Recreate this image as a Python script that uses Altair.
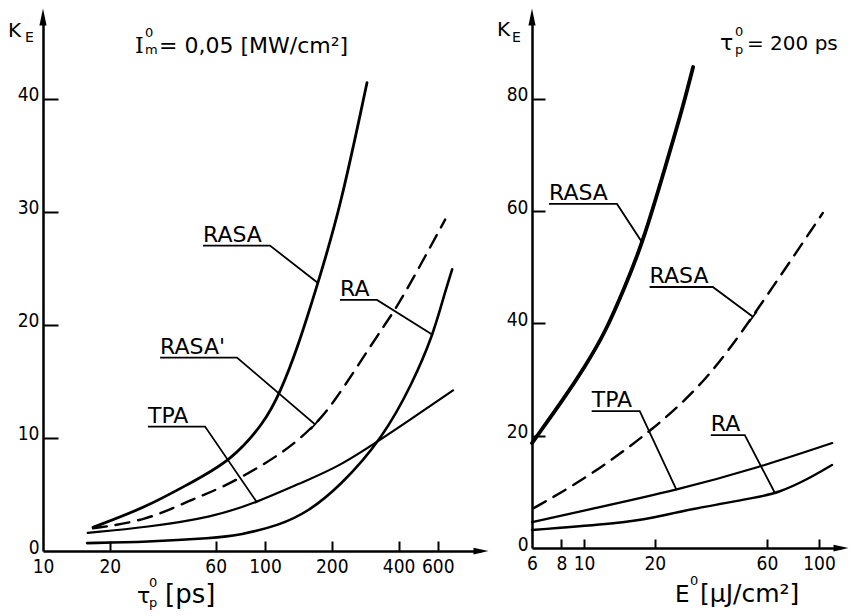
import math
import altair as alt
import pandas as pd

FONT = "DejaVu Sans"
TICKFONT = "DejaVu Sans Condensed, Liberation Sans Narrow, DejaVu Sans"

# ---------------- left panel: K_E versus tau_p^0 [ps] ----------------
L_RASA_X = [16.8, 29.4, 45.9, 69.6, 100.0, 116.8, 139.4, 173.3, 217.7, 288.1]
L_RASA_Y = [2.1, 3.9, 6.0, 7.9, 11.4, 14.0, 17.8, 23.7, 30.2, 41.4]
L_RASAP_X = [16.8, 29.4, 45.9, 64.6, 102.1, 133.8, 171.4, 204.9, 264.6, 340.0, 405.0, 648.0]
L_RASAP_Y = [2.0, 2.7, 4.5, 5.6, 7.8, 9.4, 11.3, 13.2, 16.5, 19.8, 21.9, 29.3]
L_RA_X = [15.8, 29.4, 58.3, 77.2, 116.8, 154.4, 217.7, 340.0, 464.0, 571.0, 632.0, 697.0]
L_RA_Y = [0.7, 0.8, 1.15, 1.4, 2.3, 3.4, 5.7, 10.0, 14.9, 19.1, 22.2, 24.9]
L_TPA_X = [15.9, 29.4, 58.3, 92.0, 144.3, 217.7, 347.7, 703.0]
L_TPA_Y = [1.6, 2.1, 3.0, 4.3, 6.0, 7.5, 10.1, 14.2]

L_XLABELS = [10, 20, 60, 100, 200, 400, 600]
L_XTICKS = [20, 60, 100, 200, 400, 600]
L_YLABELS = [0, 10, 20, 30, 40]
L_YTICKS = [10, 20, 30, 40]

# label, underline x0, underline x1, underline y, leader end x, leader end y, end bar
L_ANNOT = [
    ("RASA", 52.6, 105.3, 27.0, 173.3, 23.7, False),
    ("RA", 217.7, 319.6, 22.2, 571.0, 19.1, False),
    ("RASA'", 33.7, 74.8, 17.1, 168.0, 11.2, True),
    ("TPA", 29.7, 53.7, 11.0, 92.0, 4.3, False),
]

# ---------------- right panel: K_E versus E^0 [uJ/cm2] ----------------
R_RASA_X = [6.0, 8.29, 10.07, 12.27, 14.9, 17.75, 22.6, 26.1, 29.1]
R_RASA_Y = [18.7, 26.9, 32.3, 38.3, 46.5, 54.3, 69.1, 78.0, 85.7]
R_RASAD_X = [6.1, 10.3, 19.6, 33.4, 52.3, 103.8]
R_RASAD_Y = [7.1, 12.5, 21.0, 29.9, 41.2, 59.7]
R_TPA_X = [6.0, 10.3, 24.8, 56.0, 113.8]
R_TPA_Y = [4.6, 6.8, 10.3, 14.4, 18.7]
R_RA_X = [6.0, 14.2, 19.6, 27.4, 56.0, 66.4, 88.2, 113.5]
R_RA_Y = [3.2, 4.4, 5.35, 6.8, 9.1, 9.8, 12.1, 14.8]

R_XLABELS = [6, 8, 10, 20, 60, 100]
R_XTICKS = [8, 10, 20, 60, 100]
R_YLABELS = [0, 20, 40, 60, 80]
R_YTICKS = [20, 40, 60, 80]

R_ANNOT = [
    ("RASA", 7.09, 13.8, 61.3, 17.75, 54.3, False),
    ("RASA", 19.0, 35.3, 46.5, 52.3, 41.2, True),
    ("TPA", 10.77, 17.25, 24.4, 24.76, 10.3, False),
    ("RA", 34.6, 48.3, 20.1, 64.9, 9.8, False),
]

ONE = alt.Data(values=[{}])


def axis(values, is_y):
    extra = {"labelOffset": -4, "labelPadding": 4} if is_y else {"labelPadding": 6}
    return alt.Axis(values=values, format="d", title=None, grid=False, ticks=False,
                    tickSize=0, domain=True, domainColor="black", domainWidth=2.5,
                    labelFont=TICKFONT, labelFontSize=19, labelColor="black",
                    labelFlush=False, labelOverlap=False, **extra)


def tick_axis(values, orient, offset, size):
    # a second axis on the same scale, moved onto the axis line so its ticks point inward
    return alt.Axis(values=values, orient=orient, offset=offset, labels=False, domain=False,
                    grid=False, ticks=True, tickSize=size, tickWidth=2, tickColor="black",
                    title=None)


class Panel:
    def __init__(self, xdom, ydom, W, H, xlabels, ylabels):
        self.xdom, self.ydom, self.W, self.H = xdom, ydom, W, H
        self.xs = alt.Scale(type="log", domain=xdom, nice=False)
        self.ys = alt.Scale(domain=ydom, nice=False, zero=False)
        self.xa = axis(xlabels, False)
        self.ya = axis(ylabels, True)

    def X(self, f):
        return alt.X(f, scale=self.xs, axis=self.xa)

    def Y(self, f):
        return alt.Y(f, scale=self.ys, axis=self.ya)

    # pixel <-> data helpers for the small perpendicular bar at a leader end
    def px(self, x, y):
        lx0, lx1 = math.log10(self.xdom[0]), math.log10(self.xdom[1])
        return ((math.log10(x) - lx0) / (lx1 - lx0) * self.W,
                self.H - (y - self.ydom[0]) / (self.ydom[1] - self.ydom[0]) * self.H)

    def data(self, px, py):
        lx0, lx1 = math.log10(self.xdom[0]), math.log10(self.xdom[1])
        return (10 ** (lx0 + px / self.W * (lx1 - lx0)),
                self.ydom[0] + (self.H - py) / self.H * (self.ydom[1] - self.ydom[0]))

    def curve(self, xs, ys, width, dash=None):
        mk = dict(color="black", strokeWidth=width, interpolate="basis", strokeCap="round")
        if dash:
            mk["strokeDash"] = dash
        return alt.Chart(pd.DataFrame({"x": xs, "y": ys})).mark_line(**mk).encode(
            x=self.X("x:Q"), y=self.Y("y:Q"))

    def annotations(self, annot):
        rows, labels = [], []
        for i, (lab, x0, x1, yu, xe, ye, bar) in enumerate(annot):
            pts = [(x0, yu), (x1, yu), (xe, ye)]
            if bar:
                ax, ay = self.px(x1, yu)
                ex, ey = self.px(xe, ye)
                d = math.hypot(ex - ax, ey - ay)
                nx, ny = -(ey - ay) / d * 6.5, (ex - ax) / d * 6.5
                pts += [self.data(ex + nx, ey + ny), self.data(ex - nx, ey - ny)]
            rows += [dict(x=px_, y=py_, g=i, o=k) for k, (px_, py_) in enumerate(pts)]
            labels.append(dict(x=x0, y=yu, t=lab))
        lead = alt.Chart(pd.DataFrame(rows)).mark_line(color="black", strokeWidth=1.8).encode(
            x=self.X("x:Q"), y=self.Y("y:Q"), detail="g:N", order="o:Q")
        text = alt.Chart(pd.DataFrame(labels)).mark_text(
            align="left", baseline="alphabetic", dy=-4, font=FONT, fontSize=22,
            color="black").encode(x=self.X("x:Q"), y=self.Y("y:Q"), text="t:N")
        return [lead, text]

    def tick_layer(self, xs, ys, xt, yt, ylen, xlen):
        return alt.Chart(pd.DataFrame({"x": xs, "y": ys})).mark_line(opacity=0).encode(
            x=alt.X("x:Q", scale=self.xs, axis=tick_axis(xt, "top", -self.H, xlen)),
            y=alt.Y("y:Q", scale=self.ys, axis=tick_axis(yt, "right", -self.W, ylen)))


def txt(s, px, py, size, font=FONT):
    return alt.Chart(ONE).mark_text(align="left", baseline="alphabetic", font=font,
                                    fontSize=size, color="black").encode(
        x=alt.value(px), y=alt.value(py), text=alt.value(s))


def arrows(W, H):
    up = alt.Chart(ONE).mark_point(shape="M0,-1L0.42,1L-0.42,1Z", size=290, filled=True,
                                   color="black", opacity=1).encode(x=alt.value(0), y=alt.value(0))
    right = alt.Chart(ONE).mark_point(shape="M1,0L-1,0.45L-1,-0.45Z", size=225, filled=True,
                                      color="black", opacity=1).encode(x=alt.value(W), y=alt.value(H))
    return [up, right]


# ---------- left ----------
LW, LH = 438, 534
L = Panel([10, 940], [0, 47.21], LW, LH, L_XLABELS, L_YLABELS)
left_base = alt.layer(*([
    L.curve(L_RASA_X, L_RASA_Y, 2.8),
    L.curve(L_RASAP_X, L_RASAP_Y, 2.4, dash=[14, 9]),
    L.curve(L_RA_X, L_RA_Y, 2.6),
    L.curve(L_TPA_X, L_TPA_Y, 2.2),
] + arrows(LW, LH) + L.annotations(L_ANNOT) + [
    txt("K", -35, 20, 20), txt("E", -18, 25, 14),
    txt("I", 92, 36, 22, "DejaVu Serif"), txt("0", 102, 20, 13), txt("m", 102, 37, 13),
    txt("= 0,05 [MW/cm²]", 116, 36, 22),
    txt("τ", 94, 586, 22), txt("0", 106, 570, 13), txt("p", 106, 590, 13),
    txt("[ps]", 122, 586, 26),
]))
left = alt.layer(left_base, L.tick_layer(L_TPA_X, L_TPA_Y, L_XTICKS, L_YTICKS, 15, 10)).resolve_axis(
    x="independent", y="independent").properties(width=LW, height=LH)

# ---------- right ----------
RW, RH = 309, 531
R = Panel([6, 124], [0, 94.61], RW, RH, R_XLABELS, R_YLABELS)
right_base = alt.layer(*([
    R.curve(R_RASA_X, R_RASA_Y, 3.8),
    R.curve(R_RASAD_X, R_RASAD_Y, 2.4, dash=[14, 9]),
    R.curve(R_TPA_X, R_TPA_Y, 2.2),
    R.curve(R_RA_X, R_RA_Y, 2.4),
] + arrows(RW, RH) + R.annotations(R_ANNOT) + [
    txt("K", -35, 19, 20), txt("E", -20, 25, 14),
    txt("τ", 188, 33, 22), txt("0", 203, 19, 13), txt("p", 203, 37, 13),
    txt("= 200 ps", 215, 33, 20),
    txt("E", 143, 585, 23), txt("0", 158, 568, 13), txt("[μJ/cm²]", 168, 585, 25),
]))
right = alt.layer(right_base, R.tick_layer(R_TPA_X, R_TPA_Y, R_XTICKS, R_YTICKS, 13, 9)).resolve_axis(
    x="independent", y="independent").properties(width=RW, height=RH)

chart = alt.hconcat(left, right, spacing=51, bounds="flush").properties(
    padding={"left": 8, "top": 8, "right": 0, "bottom": 0}, background="white"
).configure_view(stroke=None)

chart.save("out.html", embed_options={"renderer": "svg", "actions": False})
